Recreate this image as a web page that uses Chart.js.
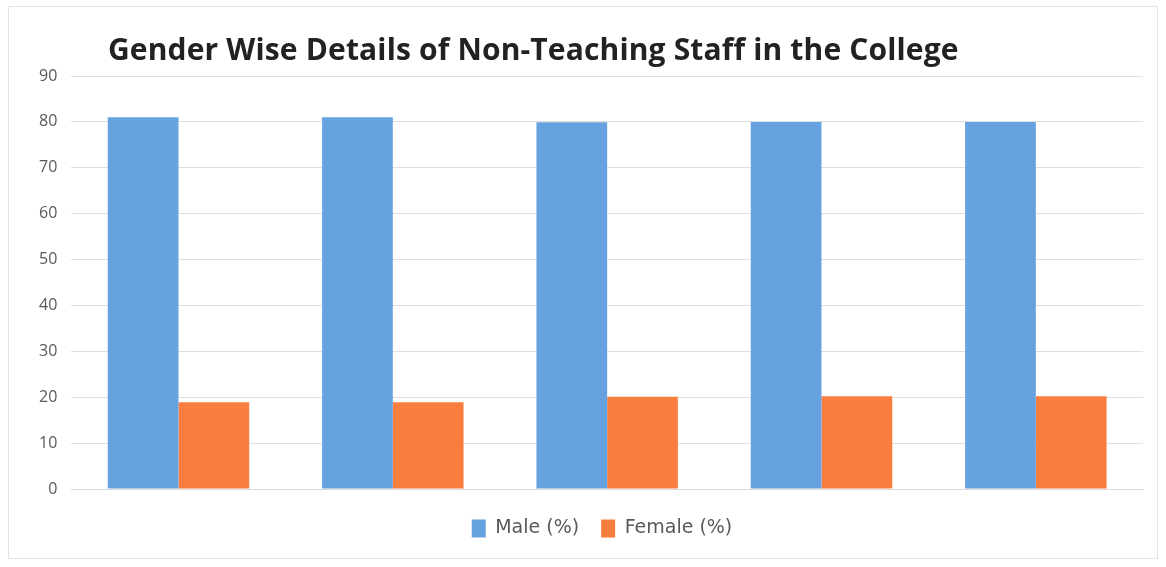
<!DOCTYPE html>
<html>
<head>
<meta charset="utf-8">
<title>Gender Wise Details of Non-Teaching Staff</title>
<script src="https://cdn.jsdelivr.net/npm/chart.js@4/dist/chart.umd.min.js"></script>
<style>
    html, body { margin: 0; padding: 0; background: #fff; }
    #wrap {
        position: absolute; left: 8px; top: 6px;
        width: 1150px; height: 553px;
        border: 1px solid #e2e2e2;
        box-sizing: border-box;
    }
    #chartTitle {
        position: absolute; left: 108px; top: 34px;
        margin: 0;
        font: bold 30px/30px 'Open Sans', sans-serif;
        letter-spacing: 0.15px;
        color: #222;
        white-space: nowrap;
    }
</style>
</head>
<body>
<div id="wrap"><canvas id="staffChart"></canvas></div>
<div id="chartTitle">Gender Wise Details of Non-Teaching Staff in the College</div>
<script>
// categories have no printed labels in the source chart
const categories = ['1', '2', '3', '4', '5'];
const malePct = [81.0, 81.0, 79.9, 80.0, 80.0];
const femalePct = [18.9, 18.9, 20.1, 20.2, 20.2];
const yTicks = [0, 10, 20, 30, 40, 50, 60, 70, 80, 90];

const FONT = "'Open Sans', 'Liberation Sans', sans-serif";

// legend sits a bit right of centre in the original, under the plot area
const legendShift = {
    id: 'legendShift',
    afterLayout(chart) {
        if (!chart.legend) return;
        chart.legend.left += 18;
        chart.legend.right += 18;
    }
};

const ctx = document.getElementById('staffChart').getContext('2d');

new Chart(ctx, {
    type: 'bar',
    data: {
        labels: categories,
        datasets: [
            {
                label: 'Male (%)',
                data: malePct,
                backgroundColor: '#66a1e0',
                categoryPercentage: 0.66,
                barPercentage: 1.0
            },
            {
                label: 'Female (%)',
                data: femalePct,
                backgroundColor: '#fa7d40',
                categoryPercentage: 0.66,
                barPercentage: 1.0
            }
        ]
    },
    options: {
        responsive: true,
        maintainAspectRatio: false,
        animation: false,
        layout: { padding: { left: 16, right: 14, top: 69, bottom: 10 } },
        scales: {
            x: {
                ticks: { display: false },
                grid: { display: false },
                border: { display: true, color: '#d9d9d9' }
            },
            y: {
                min: 0,
                max: 90,
                afterBuildTicks(axis) {
                    axis.ticks = yTicks.map(v => ({ value: v }));
                },
                ticks: {
                    color: '#595959',
                    padding: 14,
                    font: { family: FONT, size: 16 }
                },
                grid: { color: '#dedede', drawTicks: false },
                border: { display: false }
            }
        },
        plugins: {
            title: { display: false },
            legend: {
                position: 'bottom',
                labels: {
                    color: '#595959',
                    boxWidth: 14,
                    boxHeight: 18,
                    padding: 22,
                    font: { family: "'DejaVu Sans', sans-serif", size: 19 }
                }
            },
            tooltip: { enabled: false }
        }
    },
    plugins: [legendShift]
});
</script>
</body>
</html>
